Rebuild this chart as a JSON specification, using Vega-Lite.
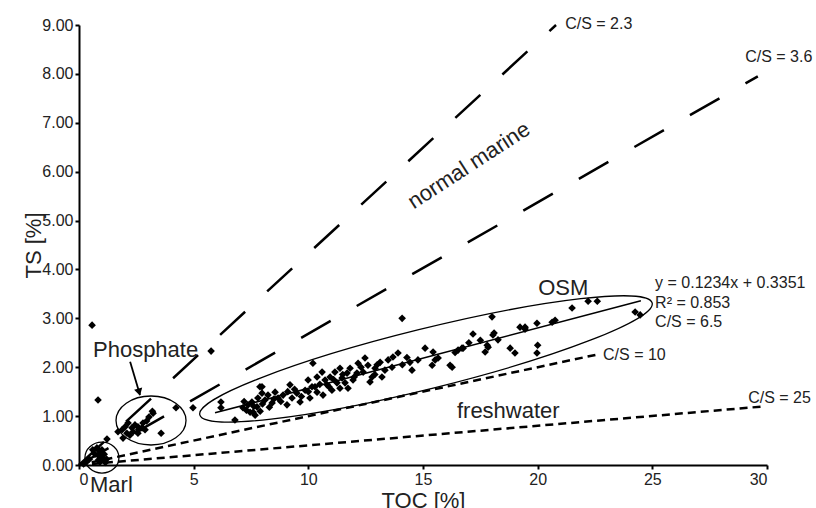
{
 "$schema": "https://vega.github.io/schema/vega-lite/v6.json",
 "width": 688,
 "height": 440,
 "autosize": {"type": "none"},
 "padding": {"left": 79, "top": 25, "right": 49, "bottom": 43},
 "background": "white",
 "config": {
  "view": {"stroke": null},
  "font": "Liberation Sans",
  "axis": {"domainColor": "black", "domainWidth": 2, "tickColor": "black", "tickWidth": 2, "tickSize": 4, "labelFont": "Liberation Sans", "labelFontSize": 16, "labelColor": "#222", "titleFont": "Liberation Sans", "titleFontSize": 22, "titleFontWeight": "normal", "titleColor": "#222", "grid": false, "labelPadding": 2}
 },
 "datasets": {
  "pts": [
   {"x":0.3,"y":0.05},{"x":0.45,"y":0.12},{"x":0.6,"y":0.31},{"x":0.7,"y":0.22},{"x":0.78,"y":0.35},{"x":0.83,"y":0.2},{"x":0.9,"y":0.28},{"x":0.92,"y":0.06},{"x":1.0,"y":0.31},{"x":1.0,"y":0.14},{"x":1.05,"y":0.1},{"x":1.1,"y":0.22},{"x":1.15,"y":0.05},{"x":0.85,"y":0.1},{"x":0.95,"y":0.18},{"x":0.2,"y":0.02},{"x":1.2,"y":0.12},
   {"x":0.57,"y":2.86},{"x":0.83,"y":1.33},{"x":1.22,"y":0.53},{"x":4.23,"y":1.17},{"x":4.97,"y":1.17},{"x":5.76,"y":2.33},{"x":14.09,"y":3.0},{"x":3.58,"y":0.65},
   {"x":3.23,"y":1.06},{"x":3.2,"y":1.1},{"x":3.05,"y":0.98},{"x":2.79,"y":0.86},{"x":2.75,"y":0.76},{"x":2.57,"y":0.78},{"x":2.44,"y":0.82},{"x":2.31,"y":0.76},{"x":2.14,"y":0.86},{"x":2.01,"y":0.78},{"x":1.88,"y":0.72},{"x":1.7,"y":0.68},{"x":2.09,"y":0.65},{"x":2.36,"y":0.68},{"x":2.57,"y":0.65},{"x":2.88,"y":0.72},{"x":2.22,"y":0.61},{"x":1.92,"y":0.55},{"x":2.95,"y":0.9},{"x":2.6,"y":0.72},
   {"x":6.19,"y":1.29},{"x":6.19,"y":1.17},{"x":6.8,"y":0.92},{"x":7.15,"y":1.17},{"x":7.37,"y":1.23},{"x":7.54,"y":1.29},{"x":7.59,"y":1.08},{"x":7.76,"y":1.19},{"x":7.89,"y":1.6},{"x":7.8,"y":1.37},{"x":7.98,"y":1.47},{"x":8.11,"y":1.33},{"x":8.24,"y":1.43},{"x":8.42,"y":1.27},{"x":8.55,"y":1.49},{"x":8.68,"y":1.37},{"x":8.9,"y":1.43},{"x":9.07,"y":1.23},{"x":9.2,"y":1.64},{"x":9.29,"y":1.37},{"x":9.5,"y":1.47},{"x":9.64,"y":1.29},{"x":9.86,"y":1.53},{"x":9.99,"y":1.74},{"x":10.07,"y":1.37},{"x":10.29,"y":1.6},{"x":7.98,"y":1.6},{"x":7.46,"y":1.08},{"x":7.68,"y":1.02},
   {"x":7.3,"y":1.12},{"x":7.62,"y":1.2},{"x":8.0,"y":1.25},{"x":8.3,"y":1.18},{"x":8.8,"y":1.3},{"x":9.4,"y":1.55},{"x":9.7,"y":1.4},{"x":10.0,"y":1.5},{"x":7.2,"y":1.3},{"x":7.9,"y":1.1},{"x":8.5,"y":1.35},{"x":9.1,"y":1.5},
   {"x":10.2,"y":2.08},{"x":10.6,"y":1.9},{"x":10.73,"y":1.74},{"x":10.95,"y":1.8},{"x":11.16,"y":1.9},{"x":11.38,"y":1.98},{"x":11.47,"y":1.78},{"x":11.69,"y":1.88},{"x":11.82,"y":1.98},{"x":11.95,"y":1.74},{"x":12.17,"y":2.08},{"x":12.39,"y":1.9},{"x":12.47,"y":2.19},{"x":12.6,"y":2.04},{"x":12.78,"y":1.8},{"x":12.91,"y":1.98},{"x":13.13,"y":2.1},{"x":13.34,"y":1.94},{"x":13.48,"y":2.15},{"x":13.65,"y":2.0},{"x":13.69,"y":2.21},{"x":13.91,"y":2.29},{"x":14.43,"y":2.1},{"x":14.52,"y":1.94},{"x":14.78,"y":2.15},{"x":15.09,"y":2.39},{"x":15.44,"y":2.31},{"x":10.38,"y":1.8},{"x":10.82,"y":1.64},{"x":11.25,"y":1.68},{"x":11.6,"y":1.68},{"x":12.12,"y":1.88},{"x":12.69,"y":1.7},{"x":13.21,"y":1.8},{"x":10.16,"y":1.6},{"x":10.38,"y":1.49},{"x":10.64,"y":1.43},{"x":11.03,"y":1.53},{"x":11.38,"y":1.57},{"x":11.73,"y":1.57},
   {"x":10.5,"y":1.65},{"x":10.9,"y":1.6},{"x":11.1,"y":1.75},{"x":11.5,"y":1.85},{"x":12.0,"y":1.8},{"x":12.3,"y":2.0},{"x":12.9,"y":1.85},{"x":13.0,"y":2.05},{"x":14.1,"y":2.05},{"x":14.3,"y":2.2},
   {"x":15.53,"y":2.15},{"x":15.66,"y":2.19},{"x":16.18,"y":2.04},{"x":16.53,"y":2.35},{"x":16.75,"y":2.39},{"x":17.18,"y":2.68},{"x":17.71,"y":2.31},{"x":17.84,"y":2.41},{"x":18.01,"y":3.03},{"x":18.1,"y":2.7},{"x":18.27,"y":2.56},{"x":18.8,"y":2.39},{"x":19.01,"y":2.29},{"x":19.23,"y":2.82},{"x":19.45,"y":2.82},{"x":19.97,"y":2.9},{"x":19.97,"y":2.29},{"x":20.63,"y":2.92},{"x":20.76,"y":2.96},{"x":15.4,"y":2.04},{"x":16.27,"y":2.0},{"x":21.5,"y":3.21},{"x":22.2,"y":3.35},{"x":22.6,"y":3.35},{"x":24.25,"y":3.13},{"x":24.47,"y":3.07},{"x":16.7,"y":2.39},{"x":17.8,"y":2.45},{"x":19.45,"y":2.78},{"x":20.0,"y":2.45},{"x":18.05,"y":2.66},{"x":16.4,"y":2.3},{"x":17.0,"y":2.5},{"x":17.5,"y":2.55}
  ],
  "lines": [
   {"series":"C/S 2.3","style":"long","x":0,"y":0},{"series":"C/S 2.3","style":"long","x":20.8,"y":9.0},
   {"series":"C/S 3.6","style":"long","x":0,"y":0},{"series":"C/S 3.6","style":"long","x":29.6,"y":7.95},
   {"series":"C/S 10","style":"short","x":0,"y":0},{"series":"C/S 10","style":"short","x":22.6,"y":2.26},
   {"series":"C/S 25","style":"short","x":0,"y":0},{"series":"C/S 25","style":"short","x":29.9,"y":1.2},
   {"series":"fit","style":"solid","x":5.93,"y":1.067},{"series":"fit","style":"solid","x":24.5,"y":3.358}
  ],
  "ellipses": [
   {"name":"OSM","x":15.13,"y":2.17},
   {"name":"Phosphate","x":3.14,"y":0.91},
   {"name":"Marl","x":1.0,"y":0.15}
  ],
  "arrow": [
   {"x":2.23,"y":2.11,"x2":2.66,"y2":1.43}
  ],
  "arrowhead": [
   {"x":2.62,"y":1.49}
  ],
  "labels": [
   {"kind":"small","label":"C/S = 2.3","x":21.2,"y":9.02},
   {"kind":"small","label":"C/S = 3.6","x":29.05,"y":8.34},
   {"kind":"small","label":"y = 0.1234x + 0.3351","x":25.12,"y":3.72},
   {"kind":"small","label":"R² = 0.853","x":25.12,"y":3.31},
   {"kind":"small","label":"C/S = 6.5","x":25.12,"y":2.92},
   {"kind":"small","label":"C/S = 10","x":22.85,"y":2.25},
   {"kind":"small","label":"C/S = 25","x":29.18,"y":1.37},
   {"kind":"big","label":"OSM","x":20.02,"y":3.62},
   {"kind":"big","label":"freshwater","x":16.48,"y":1.1},
   {"kind":"big","label":"Phosphate","x":0.61,"y":2.35},
   {"kind":"big","label":"Marl","x":0.48,"y":-0.41},
   {"kind":"rot","label":"normal marine","x":17.0,"y":6.13}
  ]
 },
 "encoding": {
  "x": {"field": "x", "type": "quantitative", "scale": {"domain": [0, 30], "nice": false, "zero": false}, "axis": {"values": [0,5,10,15,20,25,30], "format": "d", "title": "TOC [%]", "titlePadding": 3}},
  "y": {"field": "y", "type": "quantitative", "scale": {"domain": [0, 9], "nice": false, "zero": false}, "axis": {"values": [0,1,2,3,4,5,6,7,8,9], "format": ".2f", "title": "TS [%]", "titleX": -34, "titleY": 220}}
 },
 "layer": [
  {"data": {"name": "lines"}, "transform": [{"filter": "datum.style === 'long'"}], "mark": {"type": "line", "color": "black", "strokeWidth": 2.5, "strokeDash": [34, 30]}, "encoding": {"detail": {"field": "series"}}},
  {"data": {"name": "lines"}, "transform": [{"filter": "datum.style === 'short'"}], "mark": {"type": "line", "color": "black", "strokeWidth": 2.5, "strokeDash": [8, 5]}, "encoding": {"detail": {"field": "series"}}},
  {"data": {"name": "lines"}, "transform": [{"filter": "datum.style === 'solid'"}], "mark": {"type": "line", "color": "black", "strokeWidth": 1.6}, "encoding": {"detail": {"field": "series"}}},
  {"data": {"name": "ellipses"}, "transform": [{"filter": "datum.name === 'OSM'"}], "mark": {"type": "point", "filled": false, "stroke": "black", "strokeWidth": 1.3, "opacity": 1, "size": 217156, "angle": -13.9, "shape": "M -1 0 C -1 -0.0712 -0.5523 -0.129 0 -0.129 C 0.5523 -0.129 1 -0.0712 1 0 C 1 0.0712 0.5523 0.129 0 0.129 C -0.5523 0.129 -1 0.0712 -1 0 Z"}},
  {"data": {"name": "ellipses"}, "transform": [{"filter": "datum.name === 'Phosphate'"}], "mark": {"type": "point", "filled": false, "stroke": "black", "strokeWidth": 1.3, "opacity": 1, "size": 4900, "shape": "M -1 0 C -1 -0.3866 -0.5523 -0.7 0 -0.7 C 0.5523 -0.7 1 -0.3866 1 0 C 1 0.3866 0.5523 0.7 0 0.7 C -0.5523 0.7 -1 0.3866 -1 0 Z"}},
  {"data": {"name": "ellipses"}, "transform": [{"filter": "datum.name === 'Marl'"}], "mark": {"type": "point", "filled": false, "stroke": "black", "strokeWidth": 1.3, "opacity": 1, "size": 1156, "shape": "M -1 0 C -1 -0.5026 -0.5523 -0.91 0 -0.91 C 0.5523 -0.91 1 -0.5026 1 0 C 1 0.5026 0.5523 0.91 0 0.91 C -0.5523 0.91 -1 0.5026 -1 0 Z"}},
  {"data": {"name": "arrow"}, "mark": {"type": "rule", "color": "black", "strokeWidth": 1.8}, "encoding": {"x2": {"field": "x2"}, "y2": {"field": "y2"}}},
  {"data": {"name": "arrowhead"}, "mark": {"type": "point", "shape": "triangle-down", "filled": true, "color": "black", "opacity": 1, "size": 70, "angle": -15}},
  {"data": {"name": "pts"}, "mark": {"type": "point", "shape": "diamond", "filled": true, "color": "black", "opacity": 1, "size": 58}},
  {"data": {"name": "labels"}, "transform": [{"filter": "datum.kind === 'small'"}], "mark": {"type": "text", "align": "left", "baseline": "middle", "fontSize": 16, "font": "Liberation Sans", "color": "#222"}, "encoding": {"text": {"field": "label"}}},
  {"data": {"name": "labels"}, "transform": [{"filter": "datum.kind === 'big'"}], "mark": {"type": "text", "align": "left", "baseline": "middle", "fontSize": 22, "font": "Liberation Sans", "color": "#222"}, "encoding": {"text": {"field": "label"}}},
  {"data": {"name": "labels"}, "transform": [{"filter": "datum.kind === 'rot'"}], "mark": {"type": "text", "align": "center", "baseline": "middle", "fontSize": 22, "font": "Liberation Sans", "color": "#222", "angle": -33}, "encoding": {"text": {"field": "label"}}}
 ]
}
